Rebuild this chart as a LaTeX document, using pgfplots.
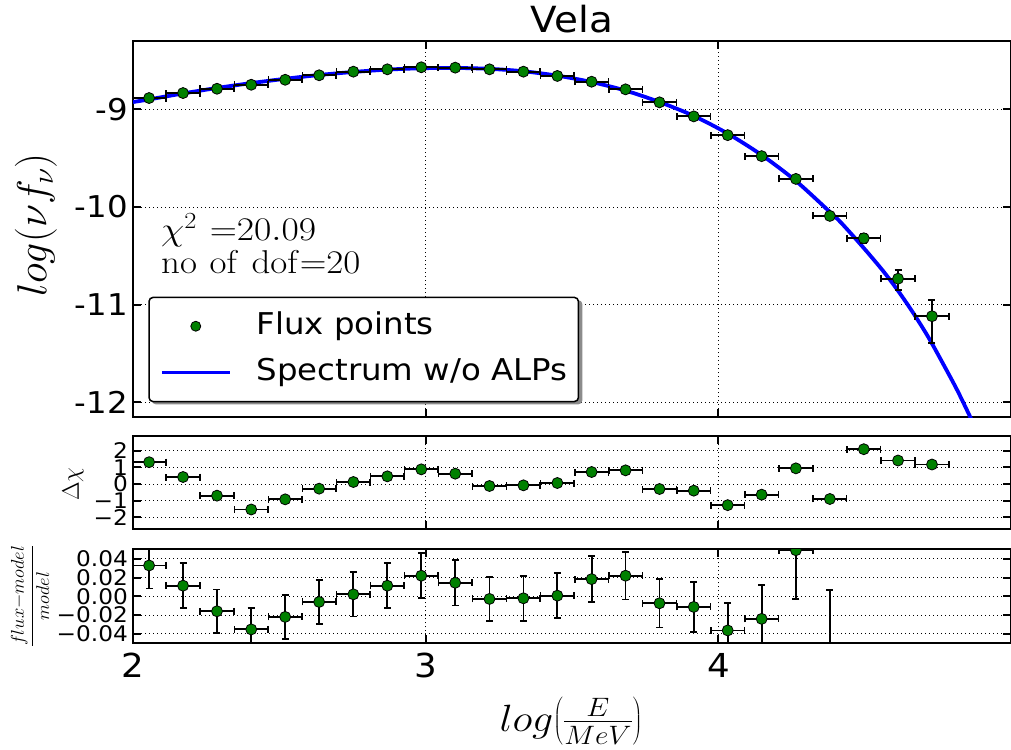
\RequirePackage{fix-cm}
\documentclass[border=0pt]{standalone}
\usepackage[no-math]{fontspec}
\setmainfont{DejaVu Sans}[FakeStretch=1.08]
\usepackage{graphicx}
\usepackage{pgfplots}
\usepackage{pgfplotstable}
\pgfplotsset{compat=1.18}
\definecolor{mgreen}{RGB}{0,128,0}
\definecolor{mblue}{RGB}{0,0,255}
\newcommand\fs[1]{\fontsize{#1pt}{#1pt}\selectfont}

\pgfplotstableread{
x xe y yp ym
2.055 0.0575 -8.884 0.010 0.010
2.171 0.0575 -8.833 0.010 0.010
2.287 0.0575 -8.789 0.010 0.010
2.404 0.0575 -8.748 0.010 0.010
2.520 0.0575 -8.697 0.010 0.010
2.636 0.0575 -8.651 0.010 0.010
2.753 0.0575 -8.614 0.010 0.010
2.869 0.0575 -8.590 0.010 0.010
2.985 0.0575 -8.569 0.010 0.010
3.101 0.0575 -8.573 0.010 0.010
3.218 0.0575 -8.590 0.010 0.010
3.334 0.0575 -8.614 0.010 0.010
3.450 0.0575 -8.658 0.010 0.010
3.567 0.0575 -8.717 0.011 0.011
3.683 0.0575 -8.795 0.011 0.011
3.799 0.0575 -8.928 0.011 0.011
3.916 0.0575 -9.072 0.012 0.012
4.032 0.0575 -9.264 0.013 0.013
4.148 0.0575 -9.479 0.016 0.016
4.265 0.0575 -9.712 0.021 0.023
4.381 0.0575 -10.091 0.028 0.031
4.497 0.0575 -10.320 0.050 0.055
4.614 0.0575 -10.734 0.089 0.116
4.730 0.0575 -11.118 0.164 0.274
}\fluxtab

\pgfplotstableread{
x y
2.000 -8.925
2.055 -8.898
2.171 -8.837
2.287 -8.781
2.404 -8.731
2.520 -8.687
2.636 -8.648
2.753 -8.617
2.869 -8.593
2.985 -8.579
3.101 -8.576
3.218 -8.585
3.334 -8.610
3.450 -8.655
3.567 -8.720
3.683 -8.808
3.799 -8.925
3.916 -9.067
4.032 -9.248
4.148 -9.468
4.265 -9.733
4.381 -10.050
4.417 -10.153
4.467 -10.318
4.517 -10.490
4.567 -10.670
4.617 -10.870
4.667 -11.090
4.717 -11.330
4.767 -11.600
4.817 -11.880
4.867 -12.190
4.900 -12.400
}\modeltab

\pgfplotstableread{
x xe d
2.055 0.0575 1.31
2.171 0.0575 0.42
2.287 0.0575 -0.70
2.404 0.0575 -1.53
2.520 0.0575 -0.92
2.636 0.0575 -0.28
2.753 0.0575 0.12
2.869 0.0575 0.46
2.985 0.0575 0.88
3.101 0.0575 0.62
3.218 0.0575 -0.12
3.334 0.0575 -0.08
3.450 0.0575 0.06
3.567 0.0575 0.72
3.683 0.0575 0.82
3.799 0.0575 -0.30
3.916 0.0575 -0.40
4.032 0.0575 -1.27
4.148 0.0575 -0.64
4.265 0.0575 0.94
4.381 0.0575 -0.90
4.497 0.0575 2.09
4.614 0.0575 1.41
4.730 0.0575 1.17
}\chitab

\pgfplotstableread{
x xe r e
2.055 0.0575 0.0328 0.0247
2.171 0.0575 0.0113 0.0240
2.287 0.0575 -0.0159 0.0233
2.404 0.0575 -0.0352 0.0229
2.520 0.0575 -0.0219 0.0232
2.636 0.0575 -0.0060 0.0235
2.753 0.0575 0.0021 0.0235
2.869 0.0575 0.0113 0.0240
2.985 0.0575 0.0219 0.0240
3.101 0.0575 0.0144 0.0240
3.218 0.0575 -0.0028 0.0235
3.334 0.0575 -0.0021 0.0240
3.450 0.0575 0.0007 0.0240
3.567 0.0575 0.0183 0.0245
3.683 0.0575 0.0219 0.0252
3.799 0.0575 -0.0074 0.0257
3.916 0.0575 -0.0113 0.0268
4.032 0.0575 -0.0363 0.0293
4.148 0.0575 -0.0240 0.0363
4.265 0.0575 0.0490 0.0520
4.381 0.0575 -0.0600 0.0670
4.497 0.0575 0.3700 0.1800
4.614 0.0575 0.2600 0.1900
4.730 0.0575 1.3500 1.1000
}\restab

\pgfplotsset{
  panel/.style={
    scale only axis, width=878pt, anchor=north west,
    xmin=2, xmax=5, xtick={2,3,4},
    axis line style={line width=2pt},
    tick style={black, line width=2pt},
    major tick length=8pt, tick align=inside,
    tick pos=both, scaled ticks=false,
    grid=major, major grid style={black, line width=1pt, dash pattern=on 1pt off 3pt},
    yticklabel style={inner sep=0pt, xshift=-5pt},
    clip marker paths=true,
  },
  pts/.style={only marks, mark=*, mark size=5.5pt,
    mark options={fill=mgreen, draw=black, line width=0.8pt},
    error bars/error bar style={line width=1.8pt, black},
    error bars/error mark=-,
    error bars/error mark options={rotate=90, black, line width=1.6pt, mark size=3.5pt}},
}

\begin{document}
\begin{tikzpicture}

\begin{axis}[panel, at={(133pt,-41pt)}, height=376pt,
  ymin=-12.15, ymax=-8.30, ytick={-12,-11,-10,-9}, yticklabels={-12,-11,-10,-9},
  yticklabel style={font=\fs{30}}, xticklabels={},
  legend cell align=left,
  legend style={at={(0.0174,0.3200)}, anchor=north west,
    draw=black, line width=1.5pt, rounded corners=4pt, fill=white,
    inner xsep=11pt, inner ysep=13.8pt, row sep=16.5pt, column sep=25pt,
    font=\fs{30},
    nodes={inner sep=0pt, text height=22.8pt, text depth=7.2pt}},
  ]
\addlegendimage{legend image code/.code={\draw[fill=mgreen, draw=black, line width=0.8pt] (34pt,0pt) circle[radius=5pt];}}
\addlegendentry{Flux points}
\addlegendimage{legend image code/.code={\draw[mblue, line width=3.5pt] (0pt,0pt) -- (68pt,0pt);}}
\addlegendentry{Spectrum w/o ALPs}
\addplot[mblue, line width=3.8pt, smooth, forget plot] table[x=x, y=y]{\modeltab};
\addplot[pts, forget plot, error bars/.cd, x dir=both, x explicit, y dir=both, y explicit]
  table[x=x, y=y, x error=xe, y error plus=yp, y error minus=ym]{\fluxtab};
\fill[black!45, rounded corners=4pt]
  ([xshift=3.5pt,yshift=-3.5pt]axis description cs:0.0174,0.3200) rectangle
  ([xshift=3.5pt,yshift=-3.5pt]axis description cs:0.5078,0.0430);
\end{axis}

\begin{axis}[panel, at={(133pt,-435.7pt)}, height=93.6pt,
  ymin=-2.72, ymax=2.90, ytick={-2,-1,0,1,2}, yticklabels={−2,−1,0,1,2},
  yticklabel style={font=\fs{21.5}}, xticklabels={}]
\addplot[pts, error bars/.cd, x dir=both, x explicit]
  table[x=x, y=d, x error=xe]{\chitab};
\end{axis}

\begin{axis}[panel, at={(133pt,-549.3pt)}, height=94pt,
  ymin=-0.05, ymax=0.05, ytick={-0.04,-0.02,0,0.02,0.04},
  yticklabels={−0.04,−0.02,0.00,0.02,0.04},
  yticklabel style={font=\fs{21.5}},
  xticklabels={2,3,4}, xticklabel style={font=\fs{33}, inner sep=0pt, yshift=-10pt}]
\addplot[pts, error bars/.cd, x dir=both, x explicit, y dir=both, y explicit]
  table[x=x, y=r, x error=xe, y error=e]{\restab};
\end{axis}

\node[anchor=base, font=\fs{36}, inner sep=0pt] at (572pt,-33pt) {Vela};
\node[rotate=90, font=\fs{42}, inner sep=0pt] at (36pt,-225pt) {$log(\nu f_\nu)$};
\node[rotate=90, font=\fs{24}, inner sep=0pt] at (73pt,-484pt) {$\Delta\chi$};
\node[rotate=90, font=\fs{18.5}, inner sep=0pt] at (30pt,-596pt) {$\displaystyle\frac{flux{-}model}{model}$};
\node[anchor=base, font=\fs{38}, inner sep=0pt] at (571pt,-731pt) {\scalebox{1.1}[1]{$log{\left(\frac{E}{MeV}\right)}$}};
\node[anchor=base west, font=\fs{33}, inner sep=0pt] at (161pt,-240pt) {\scalebox{1.14}[1]{$\chi^2\ {=}20.09$}};
\node[anchor=base west, font=\fs{33}, inner sep=0pt] at (161pt,-273.3pt) {\scalebox{1.12}[1]{$\mathrm{no\ of\ dof}{=}20$}};

\pgfresetboundingbox
\path[use as bounding box] (0pt,0pt) rectangle (1011pt,-749pt);
\end{tikzpicture}
\end{document}
